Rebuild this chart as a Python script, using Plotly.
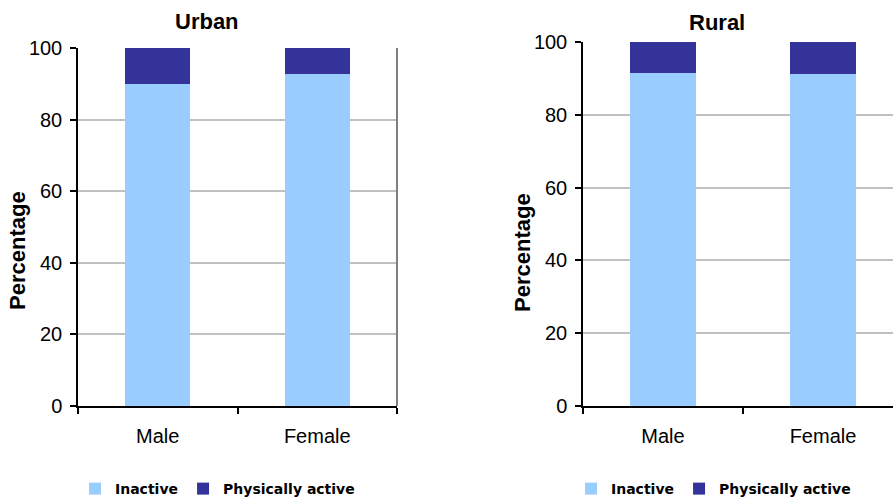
import plotly.graph_objects as go

# Physical activity by sex, urban vs rural (percent of respondents)
categories = ["Male", "Female"]
urban_inactive = [90.0, 92.7]
urban_active = [10.0, 7.3]
rural_inactive = [91.5, 91.2]
rural_active = [8.5, 8.8]

series_names = ["Inactive", "Physically active"]
colors = {"Inactive": "#99CCFF", "Physically active": "#333399"}

W, H = 893, 501
FONT = "Arial, Liberation Sans, sans-serif"
TICK_SIZE = 20

fig = go.Figure()


def add_panel(inactive, active, xa, ya, legend):
    for name, vals in zip(series_names, [inactive, active]):
        fig.add_trace(go.Bar(
            x=categories, y=vals, name=name,
            marker=dict(color=colors[name], line=dict(width=0)),
            xaxis=xa, yaxis=ya, legend=legend,
            hovertemplate="%{x}: %{y}%<extra>" + name + "</extra>",
        ))


add_panel(urban_inactive, urban_active, "x", "y", "legend")
add_panel(rural_inactive, rural_active, "x2", "y2", "legend2")

axis_common_x = dict(
    type="category", showline=True, linecolor="black", linewidth=1.5,
    ticks="outside", tickson="boundaries", ticklen=6, tickcolor="black",
    tickwidth=1.5, showgrid=False, zeroline=False,
    tickfont=dict(family=FONT, size=TICK_SIZE, color="black"),
    ticklabelstandoff=11, fixedrange=True, automargin=False,
)
axis_common_y = dict(
    range=[0, 100], dtick=20, showline=True, linecolor="black", linewidth=1.5,
    ticks="outside", ticklen=6, tickcolor="black", tickwidth=1.5,
    showgrid=True, gridcolor="#C0C0C0", gridwidth=1.5, zeroline=False,
    tickfont=dict(family=FONT, size=TICK_SIZE, color="black"),
    ticklabelstandoff=4, fixedrange=True, automargin=False,
)

y_bottom = (H - 406) / H
legend_font = dict(family="DejaVu Sans", size=14, color="black", weight="bold")


def text_note(text, x_px, y_px, size, angle=0):
    return dict(text=text, x=x_px / W, y=(H - y_px) / H, xref="paper", yref="paper",
                xanchor="center", yanchor="middle", showarrow=False, textangle=angle,
                font=dict(family=FONT, size=size, color="black"))


fig.update_layout(
    width=W, height=H,
    margin=dict(l=0, r=0, t=0, b=0, autoexpand=False),
    paper_bgcolor="white", plot_bgcolor="white",
    barmode="stack", bargap=0.59,
    xaxis=dict(domain=[78 / W, 397 / W], range=[-0.5, 1.5], anchor="y", **axis_common_x),
    yaxis=dict(domain=[y_bottom, (H - 48) / H], anchor="x", **axis_common_y),
    xaxis2=dict(domain=[583 / W, 1.0], range=[-0.5, -0.5 + 310 / 160], anchor="y2", **axis_common_x),
    yaxis2=dict(domain=[y_bottom, (H - 42) / H], anchor="x2", **axis_common_y),
    legend=dict(
        orientation="h", x=75 / W, y=(H - 489) / H, xanchor="left", yanchor="middle",
        font=legend_font, itemwidth=30, traceorder="normal", bgcolor="rgba(0,0,0,0)",
    ),
    legend2=dict(
        orientation="h", x=571 / W, y=(H - 489) / H, xanchor="left", yanchor="middle",
        font=legend_font, itemwidth=30, traceorder="normal", bgcolor="rgba(0,0,0,0)",
    ),
    annotations=[
        text_note("<b>Urban</b>", 207, 21, 22),
        text_note("<b>Rural</b>", 717, 22, 22),
        text_note("<b>Percentage</b>", 17, 251, 22, angle=-90),
        text_note("<b>Percentage</b>", 522, 253, 22, angle=-90),
    ],
    shapes=[
        # grey frame edge on the right of the urban plot area
        dict(type="line", xref="x domain", yref="y domain", x0=1, x1=1, y0=0, y1=1,
             line=dict(color="#808080", width=2)),
    ],
)

fig.write_html("out.html")
